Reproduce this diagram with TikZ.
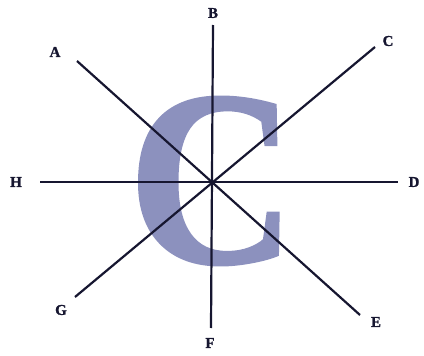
\documentclass[tikz,border=0pt]{standalone}
\usepackage{fontspec}
\setmainfont{Liberation Serif}
\newfontfamily\heavyserif[FakeBold=1.2]{Liberation Serif}
\usepackage{tikz}

\definecolor{letterblue}{RGB}{140,145,190}
\definecolor{inkdark}{RGB}{22,22,48}

\tikzset{
  axis/.style={inkdark, line width=2.2pt},
  lbl/.style={inkdark, font=\fontsize{15}{15}\selectfont\heavyserif\bfseries, inner sep=0pt}
}

\begin{document}
\begin{tikzpicture}[x=1pt, y=-1pt]
  \useasboundingbox (0,0) rectangle (424,356);

  % big letter behind the lines
  \node[letterblue, inner sep=0pt, font=\fontsize{250}{250}\selectfont\heavyserif\bfseries] (bigC) at (212,181) {\scalebox{0.93}[1]{C}};

  \def\cx{213}
  \def\cy{182}

  % line ends
  \coordinate (a) at (77,61);
  \coordinate (e) at (360,315);
  \coordinate (b) at (\cx,25);
  \coordinate (f) at (211,328);
  \coordinate (c) at (375,47);
  \coordinate (g) at (75,297);
  \coordinate (h) at (40,\cy);
  \coordinate (d) at (398,\cy);

  \draw[axis] (a) -- (e);
  \draw[axis] (b) -- (f);
  \draw[axis] (c) -- (g);
  \draw[axis] (h) -- (d);

  % labels
  \node[lbl] (A) at (55,52) {A};
  \node[lbl] (B) at (213,13) {B};
  \node[lbl] (C) at (388,41) {C};
  \node[lbl] (D) at (414,182) {D};
  \node[lbl] (E) at (376,322) {E};
  \node[lbl] (F) at (210,343) {F};
  \node[lbl] (G) at (61,310) {G};
  \node[lbl] (H) at (16,182) {H};
\end{tikzpicture}
\end{document}
